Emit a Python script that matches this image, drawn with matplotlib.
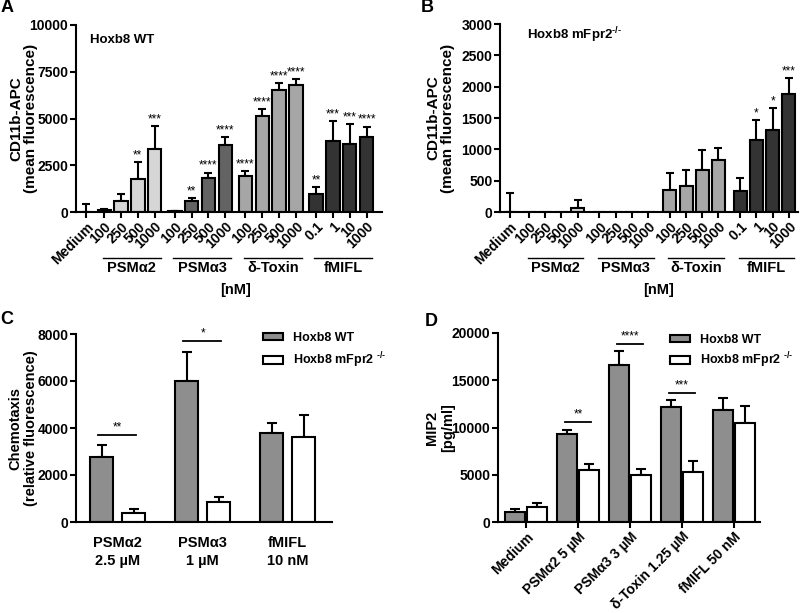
import matplotlib
matplotlib.use('Agg')
import matplotlib.pyplot as plt
import numpy as np
from matplotlib.transforms import blended_transform_factory

plt.rcParams['font.family'] = ['Liberation Sans', 'DejaVu Sans']
plt.rcParams['font.weight'] = 'bold'
plt.rcParams['axes.labelweight'] = 'bold'
plt.rcParams['mathtext.fontset'] = 'custom'
plt.rcParams['mathtext.rm'] = 'Liberation Sans:bold'
plt.rcParams['mathtext.bf'] = 'Liberation Sans:bold'
plt.rcParams['mathtext.it'] = 'Liberation Sans:bold'

# ---------------- data ----------------
conc_labels = ['Medium', '100', '250', '500', '1000', '100', '250', '500', '1000',
               '100', '250', '500', '1000', '0.1', '1', '10', '1000']
stimuli = ['PSMα2', 'PSMα3', 'δ-Toxin', 'fMIFL']

A_vals = [0, 90, 600, 1790, 3380, 30, 605, 1810, 3560, 1940, 5160, 6530, 6800, 980, 3790, 3650, 4000]
A_err = [410, 50, 360, 900, 1220, 20, 160, 300, 430, 230, 360, 370, 300, 340, 1090, 1070, 570]
A_stars = ['', '', '', '**', '***', '', '**', '****', '****', '****', '****', '****', '****',
           '**', '***', '***', '****']

B_vals = [0, 0, 0, 0, 60, 0, 0, 0, 0, 350, 412, 663, 824, 332, 1150, 1310, 1876]
B_err = [300, 0, 0, 0, 135, 0, 0, 0, 0, 265, 260, 326, 202, 203, 320, 352, 262]
B_stars = ['', '', '', '', '', '', '', '', '', '', '', '', '', '', '*', '*', '***']

C_labels = ['PSMα2\n2.5 µM', 'PSMα3\n1 µM', 'fMIFL\n10 nM']
C_wt = [2780, 6020, 3800]
C_wt_err = [490, 1210, 430]
C_ko = [385, 870, 3600]
C_ko_err = [155, 200, 960]
C_sig = ['**', '*', '']
C_sig_level = [3720, 7690, 0]

D_labels = ['Medium', 'PSMα2 5 µM', 'PSMα3 3 µM', 'δ-Toxin 1.25 µM', 'fMIFL 50 nM']
D_wt = [1060, 9350, 16610, 12170, 11890]
D_wt_err = [350, 420, 1490, 700, 1230]
D_ko = [1590, 5470, 4940, 5290, 10510]
D_ko_err = [460, 700, 700, 1170, 1800]
D_sig = ['', '**', '****', '***', '']
D_sig_level = [0, 10580, 18870, 13650, 0]

# ---------------- style ----------------
group_colors = ['#d6d6d6', '#636363', '#a6a6a6', '#333333']
wt_color = '#8e8e8e'
LW = 1.5
W, H = 800, 613
KO_SUP = r'$^{\text{-/-}}$'

fig = plt.figure(figsize=(8.0, 6.13), dpi=100)


def add_ax(left, top, right, bottom):
    return fig.add_axes([left / W, 1 - bottom / H, (right - left) / W, (bottom - top) / H])


def style_ax(ax):
    for s in ['top', 'right']:
        ax.spines[s].set_visible(False)
    for s in ['left', 'bottom']:
        ax.spines[s].set_linewidth(LW)
    ax.tick_params(width=LW, length=4, labelsize=10, pad=1.5)


def upper_err(ax, x, v, e, capsize):
    x = np.asarray(x, float); v = np.asarray(v, float); e = np.asarray(e, float)
    m = e > 0
    ax.errorbar(x[m], v[m], yerr=[np.zeros(m.sum()), e[m]], fmt='none', ecolor='black',
                elinewidth=LW, capsize=capsize, capthick=LW, zorder=1)


def dose_panel(ax, vals, err, stars, first, step, ymax, ystep, ylabel, inner, xlim):
    pos = [0.0] + [first + g * step + i for g in range(4) for i in range(4)]
    colors = ['white'] + [group_colors[g] for g in range(4) for _ in range(4)]
    upper_err(ax, pos, vals, err, 3.2)
    ax.bar(pos, vals, width=0.8, color=colors, edgecolor='black', linewidth=LW, zorder=2)
    for p, v, e, s in zip(pos, vals, err, stars):
        if s:
            ax.annotate(s, (p, v + e), xytext=(0, 0.5), textcoords='offset points',
                        ha='center', va='bottom', fontsize=8.5, fontweight='normal')
    ax.set_ylim(0, ymax)
    ax.set_yticks(np.arange(0, ymax + 1, ystep))
    ax.set_xlim(*xlim)
    ax.set_xticks(pos)
    ax.set_xticklabels(conc_labels, rotation=45, ha='right', va='top',
                       rotation_mode='anchor', fontsize=10)
    style_ax(ax)
    ax.set_ylabel(ylabel, fontsize=11, linespacing=1.1)
    tr = blended_transform_factory(ax.transData, ax.transAxes)
    for g in range(4):
        a = first + g * step
        ax.plot([a - 0.1, a + 3.35], [-0.245, -0.245], color='black', lw=1.0,
                transform=tr, clip_on=False)
        ax.text(a + 1.62, -0.30, stimuli[g], transform=tr, ha='center', va='center',
                fontsize=10.5)
    ax.text((first + first + 3 * step + 3) / 2, -0.415, '[nM]', transform=tr,
            ha='center', va='center', fontsize=10.5)
    ax.text(inner[0], inner[1], inner[2], transform=ax.transAxes, ha='left',
            va='center', fontsize=9.5)


# ---------------- panel A ----------------
axA = add_ax(76, 25, 382, 212)
dose_panel(axA, A_vals, A_err, A_stars, 1.08, 4.2, 10000, 2500,
           'CD11b-APC\n(mean fluorescence)', (0.046, 0.92, 'Hoxb8 WT'), (-0.6, 17.6))
axA.yaxis.set_label_coords(-0.124, 0.5)

# ---------------- panel B ----------------
axB = add_ax(500, 24, 798, 212)
dose_panel(axB, B_vals, B_err, B_stars, 1.18, 4.35, 3000, 500,
           'CD11b-APC\n(mean fluorescence)', (0.09, 0.94, 'Hoxb8 mFpr2' + KO_SUP), (-0.62, 17.8))
axB.yaxis.set_label_coords(-0.151, 0.5)


def pair_panel(ax, labels, wt, wte, ko, koe, sig, lev, off, width, ymax, ystep, xlim,
               ylabel, rotate):
    x = np.arange(len(labels))
    upper_err(ax, x - off, wt, wte, 3.5)
    upper_err(ax, x + off, ko, koe, 3.5)
    ax.bar(x - off, wt, width=width, color=wt_color, edgecolor='black', linewidth=LW, zorder=2,
           label='Hoxb8 WT')
    ax.bar(x + off, ko, width=width, color='white', edgecolor='black', linewidth=LW, zorder=2,
           label='Hoxb8 mFpr2 ' + KO_SUP)
    for xi, s, l in zip(x, sig, lev):
        if s:
            ax.plot([xi - off - 0.04, xi + off + 0.03], [l, l], color='black', lw=1.3,
                    clip_on=False)
            ax.annotate(s, (xi, l), xytext=(0, 1), textcoords='offset points',
                        ha='center', va='bottom', fontsize=8.5, fontweight='normal')
    ax.set_ylim(0, ymax)
    ax.set_yticks(np.arange(0, ymax + 1, ystep))
    ax.set_xlim(*xlim)
    ax.set_xticks(x)
    style_ax(ax)
    if rotate:
        ax.set_xticklabels(labels, rotation=45, ha='right', va='top',
                           rotation_mode='anchor', fontsize=10)
    else:
        ax.set_xticklabels(labels, fontsize=10.5, linespacing=1.4)
        ax.tick_params(axis='x', length=0, pad=10)
    ax.set_ylabel(ylabel, fontsize=10.5, linespacing=1.15)


# ---------------- panel C ----------------
axC = add_ax(76, 334, 332, 522)
pair_panel(axC, C_labels, C_wt, C_wt_err, C_ko, C_ko_err, C_sig, C_sig_level,
           0.19, 0.27, 8000, 2000, (-0.49, 2.52), 'Chemotaxis\n(relative fluorescence)', False)
axC.yaxis.set_label_coords(-0.148, 0.5)
axC.legend(loc='upper left', bbox_to_anchor=(0.73, 1.01), frameon=False, fontsize=9,
           handlelength=1.6, handleheight=0.55, handletextpad=0.8, labelspacing=0.5,
           borderpad=0, borderaxespad=0)

# ---------------- panel D ----------------
axD = add_ax(498, 333, 760, 522)
pair_panel(axD, D_labels, D_wt, D_wt_err, D_ko, D_ko_err, D_sig, D_sig_level,
           0.21, 0.38, 20000, 5000, (-0.54, 4.5), 'MIP2\n[pg/ml]', True)
axD.yaxis.set_label_coords(-0.164, 0.5)
axD.legend(loc='upper left', bbox_to_anchor=(0.655, 0.995), frameon=False, fontsize=9,
           handlelength=1.6, handleheight=0.55, handletextpad=0.8, labelspacing=0.35,
           borderpad=0, borderaxespad=0)

# panel letters
for lab, (px, py) in zip('ABCD', [(7, 8), (427, 8), (7, 319), (431, 321)]):
    fig.text(px / W, 1 - py / H, lab, fontsize=13, fontweight='bold', ha='center', va='center')

fig.savefig('out.png', dpi=100)
